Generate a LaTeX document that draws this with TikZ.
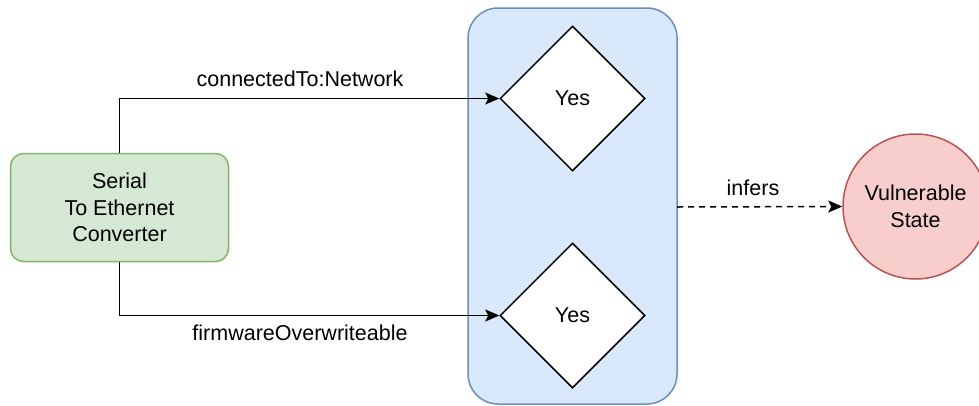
\documentclass[tikz,border=0pt]{standalone}
\usepackage{fontspec}
\setmainfont{Liberation Sans}
\usetikzlibrary{shapes.geometric,arrows.meta}
\definecolor{greenfill}{HTML}{D5E8D4}
\definecolor{greenline}{HTML}{82B366}
\definecolor{bluefill}{HTML}{DAE8FC}
\definecolor{blueline}{HTML}{6C8EBF}
\definecolor{redfill}{HTML}{F8CECC}
\definecolor{redline}{HTML}{B85450}
\begin{document}
\begin{tikzpicture}[x=1pt,y=-1pt,
  every node/.style={font=\fontsize{21.5}{26.5}\selectfont, text=black},
  conn/.style={line width=1.5pt, -{Stealth[length=14pt,width=12pt,inset=3pt]}},
  decision/.style={diamond, draw=black, fill=white, line width=1.5pt, minimum width=145pt, minimum height=145pt, inner sep=0pt, aspect=1},
  lbl/.style={inner sep=2pt}
]
\useasboundingbox (0,0) rectangle (979,405);
\begin{scope}
\clip (0,0) rectangle (979,405);
\draw[fill=bluefill, draw=blueline, line width=1.5pt, rounded corners=30pt] (468,8) rectangle (677,404);
\node[draw=greenline, fill=greenfill, line width=1.5pt, rounded corners=13pt, minimum width=218pt, minimum height=108pt, align=center, inner sep=0pt] (src) at (119.5,207.5) {Serial\\To Ethernet\\Converter};
\node[decision] (d1) at (572.5,98.5) {Yes};
\node[decision] (d2) at (572.5,315.5) {Yes};
\node[circle, draw=redline, fill=redfill, line width=1.5pt, minimum size=145pt, inner sep=0pt, align=center] (vs) at (915.5,206.5) {Vulnerable\\State};
\coordinate (blueR) at (677,207);
\draw[conn] (src.north) |- (d1.west);
\draw[conn] (src.south) |- (d2.west);
\draw[conn, dashed, dash pattern=on 6pt off 5pt] (blueR) -- (vs.west);
\node[lbl] (l1) at (300,79) {connectedTo:Network};
\node[lbl] (l2) at (300,333) {firmwareOverwriteable};
\node[lbl] (l3) at (753,188) {infers};
\end{scope}
\end{tikzpicture}
\end{document}
